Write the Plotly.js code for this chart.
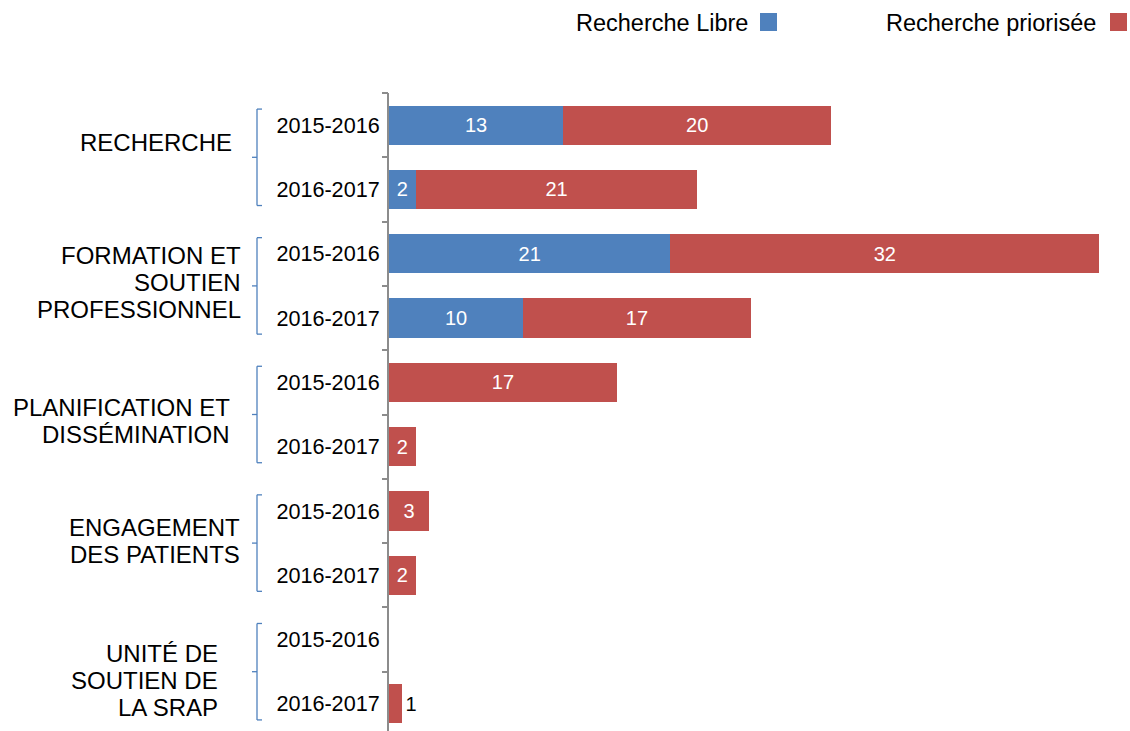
<!DOCTYPE html>
<html>
<head>
<meta charset="utf-8">
<script src="https://cdn.plot.ly/plotly-3.0.1.min.js"></script>
<style>html,body{margin:0;padding:0;background:#fff;}#chart{width:1130px;height:731px;}</style>
</head>
<body>
<div id="chart"></div>
<script>
// ---- data ----
var periods = ["2015-2016","2016-2017","2015-2016","2016-2017","2015-2016","2016-2017","2015-2016","2016-2017","2015-2016","2016-2017"];
var groupLabels = [
  ["RECHERCHE"],
  ["FORMATION ET","SOUTIEN","PROFESSIONNEL"],
  ["PLANIFICATION ET","DISSÉMINATION"],
  ["ENGAGEMENT","DES PATIENTS"],
  ["UNITÉ DE","SOUTIEN DE","LA SRAP"]
];
var libre =     [13, 2, 21, 10, null, null, null, null, null, null];
var priorisee = [20, 21, 32, 17, 17, 2, 3, 2, null, 1];
var seriesNames = ["Recherche Libre", "Recherche priorisée"];

// ---- layout constants ----
var W = 1130, H = 731;
var ML = 389, MT = 93;
var plotW = W - ML, plotH = H - MT;
var pxPerUnit = 13.4;
var rowPitch = 64.3;
var FONT = "Liberation Sans, Arial, sans-serif";
var BLUE = "#4F81BD", RED = "#C0504D";

function px2px(x){ return (x - ML) / plotW; }
function py2py(y){ return (H - y) / plotH; }

var rows = periods.map(function(_, i){ return i; });
var yTop = -0.5;
var yBottom = yTop + plotH / rowPitch;

function labelsFor(vals){ return vals.map(function(v){ return v == null ? "" : String(v); }); }

var redPos = priorisee.map(function(v){ return (v != null && v < 2) ? "outside" : "inside"; });
var redColor = priorisee.map(function(v){ return (v != null && v < 2) ? "#000" : "#fff"; });

var traces = [
  {type:"bar", orientation:"h", name:seriesNames[0], y:rows, x:libre,
   marker:{color:BLUE}, text:labelsFor(libre), textposition:"inside", insidetextanchor:"middle",
   textfont:{family:FONT, size:20, color:"#fff"}, constraintext:"none", hoverinfo:"x", showlegend:false},
  {type:"bar", orientation:"h", name:seriesNames[1], y:rows, x:priorisee,
   marker:{color:RED}, text:labelsFor(priorisee), textposition:redPos, insidetextanchor:"middle",
   textfont:{family:FONT, size:20, color:redColor}, outsidetextfont:{family:FONT,size:20,color:"#000"},
   constraintext:"none", cliponaxis:false, hoverinfo:"x", showlegend:false},
  {type:"scatter", mode:"markers", x:[0], y:[0], yaxis:"y2", marker:{opacity:0}, hoverinfo:"skip", showlegend:false}
];

var boundaries = [];
for (var b = 0; b < periods.length; b++) boundaries.push(b - 0.5);

var annotations = [];
var shapes = [];

// group label positions (pixels): right edge, first-line center y
var groupRight = [234, 243, 232, 242, 220];
var groupFirstY = [143, 255, 407, 527, 653];
var lineGap = 27.2;
groupLabels.forEach(function(lines, g){
  lines.forEach(function(t, k){
    annotations.push({xref:"paper", yref:"paper", x:px2px(groupRight[g]), y:py2py(groupFirstY[g] + k*lineGap),
      xanchor:"right", yanchor:"middle", text:t, showarrow:false,
      font:{family:FONT, size:24, color:"#000"}});
  });
  // bracket
  var c = 2*g + 0.5;
  var y0 = c - 0.75, y1 = c + 0.75;
  var xv = px2px(257), xs = px2px(262), xm = px2px(252);
  var ln = {color:BLUE, width:1.3};
  shapes.push({type:"line", xref:"paper", yref:"y", x0:xv, x1:xv, y0:y0, y1:y1, line:ln});
  shapes.push({type:"line", xref:"paper", yref:"y", x0:xv, x1:xs, y0:y0, y1:y0, line:ln});
  shapes.push({type:"line", xref:"paper", yref:"y", x0:xv, x1:xs, y0:y1, y1:y1, line:ln});
  shapes.push({type:"line", xref:"paper", yref:"y", x0:xm, x1:xv, y0:c, y1:c, line:ln});
});

// legend (text followed by coloured square)
var legendRight = [750, 1098];
var legendSq = [760, 1110];
[BLUE, RED].forEach(function(col, i){
  annotations.push({xref:"paper", yref:"paper", x:px2px(legendRight[i]), y:py2py(23),
    xanchor:"right", yanchor:"middle", text:seriesNames[i], showarrow:false,
    font:{family:FONT, size:23.5, color:"#000"}});
  shapes.push({type:"rect", xref:"paper", yref:"paper", x0:px2px(legendSq[i]), x1:px2px(legendSq[i]+17),
    y0:py2py(31), y1:py2py(13), line:{width:0}, fillcolor:col});
});

var layout = {
  width:W, height:H,
  margin:{l:ML, r:0, t:MT, b:0, pad:0},
  paper_bgcolor:"#fff", plot_bgcolor:"#fff",
  barmode:"stack", bargap:0.39,
  font:{family:FONT, color:"#000"},
  xaxis:{range:[0, plotW/pxPerUnit], visible:false, fixedrange:true},
  yaxis:{range:[yBottom, yTop], tickmode:"array", tickvals:rows, ticktext:periods,
    ticks:"", showgrid:false, zeroline:false, showline:true, linecolor:"#8c8c8c", linewidth:2,
    tickfont:{family:FONT, size:21.6, color:"#000"}, ticklabelstandoff:3, fixedrange:true},
  yaxis2:{range:[yBottom, yTop], overlaying:"y", side:"left", tickmode:"array", tickvals:boundaries,
    ticks:"outside", ticklen:6, tickwidth:2, tickcolor:"#8c8c8c", showticklabels:false,
    showgrid:false, zeroline:false, showline:false, fixedrange:true},
  annotations:annotations,
  shapes:shapes
};

Plotly.newPlot("chart", traces, layout, {displayModeBar:false, staticPlot:true});
</script>
</body>
</html>
